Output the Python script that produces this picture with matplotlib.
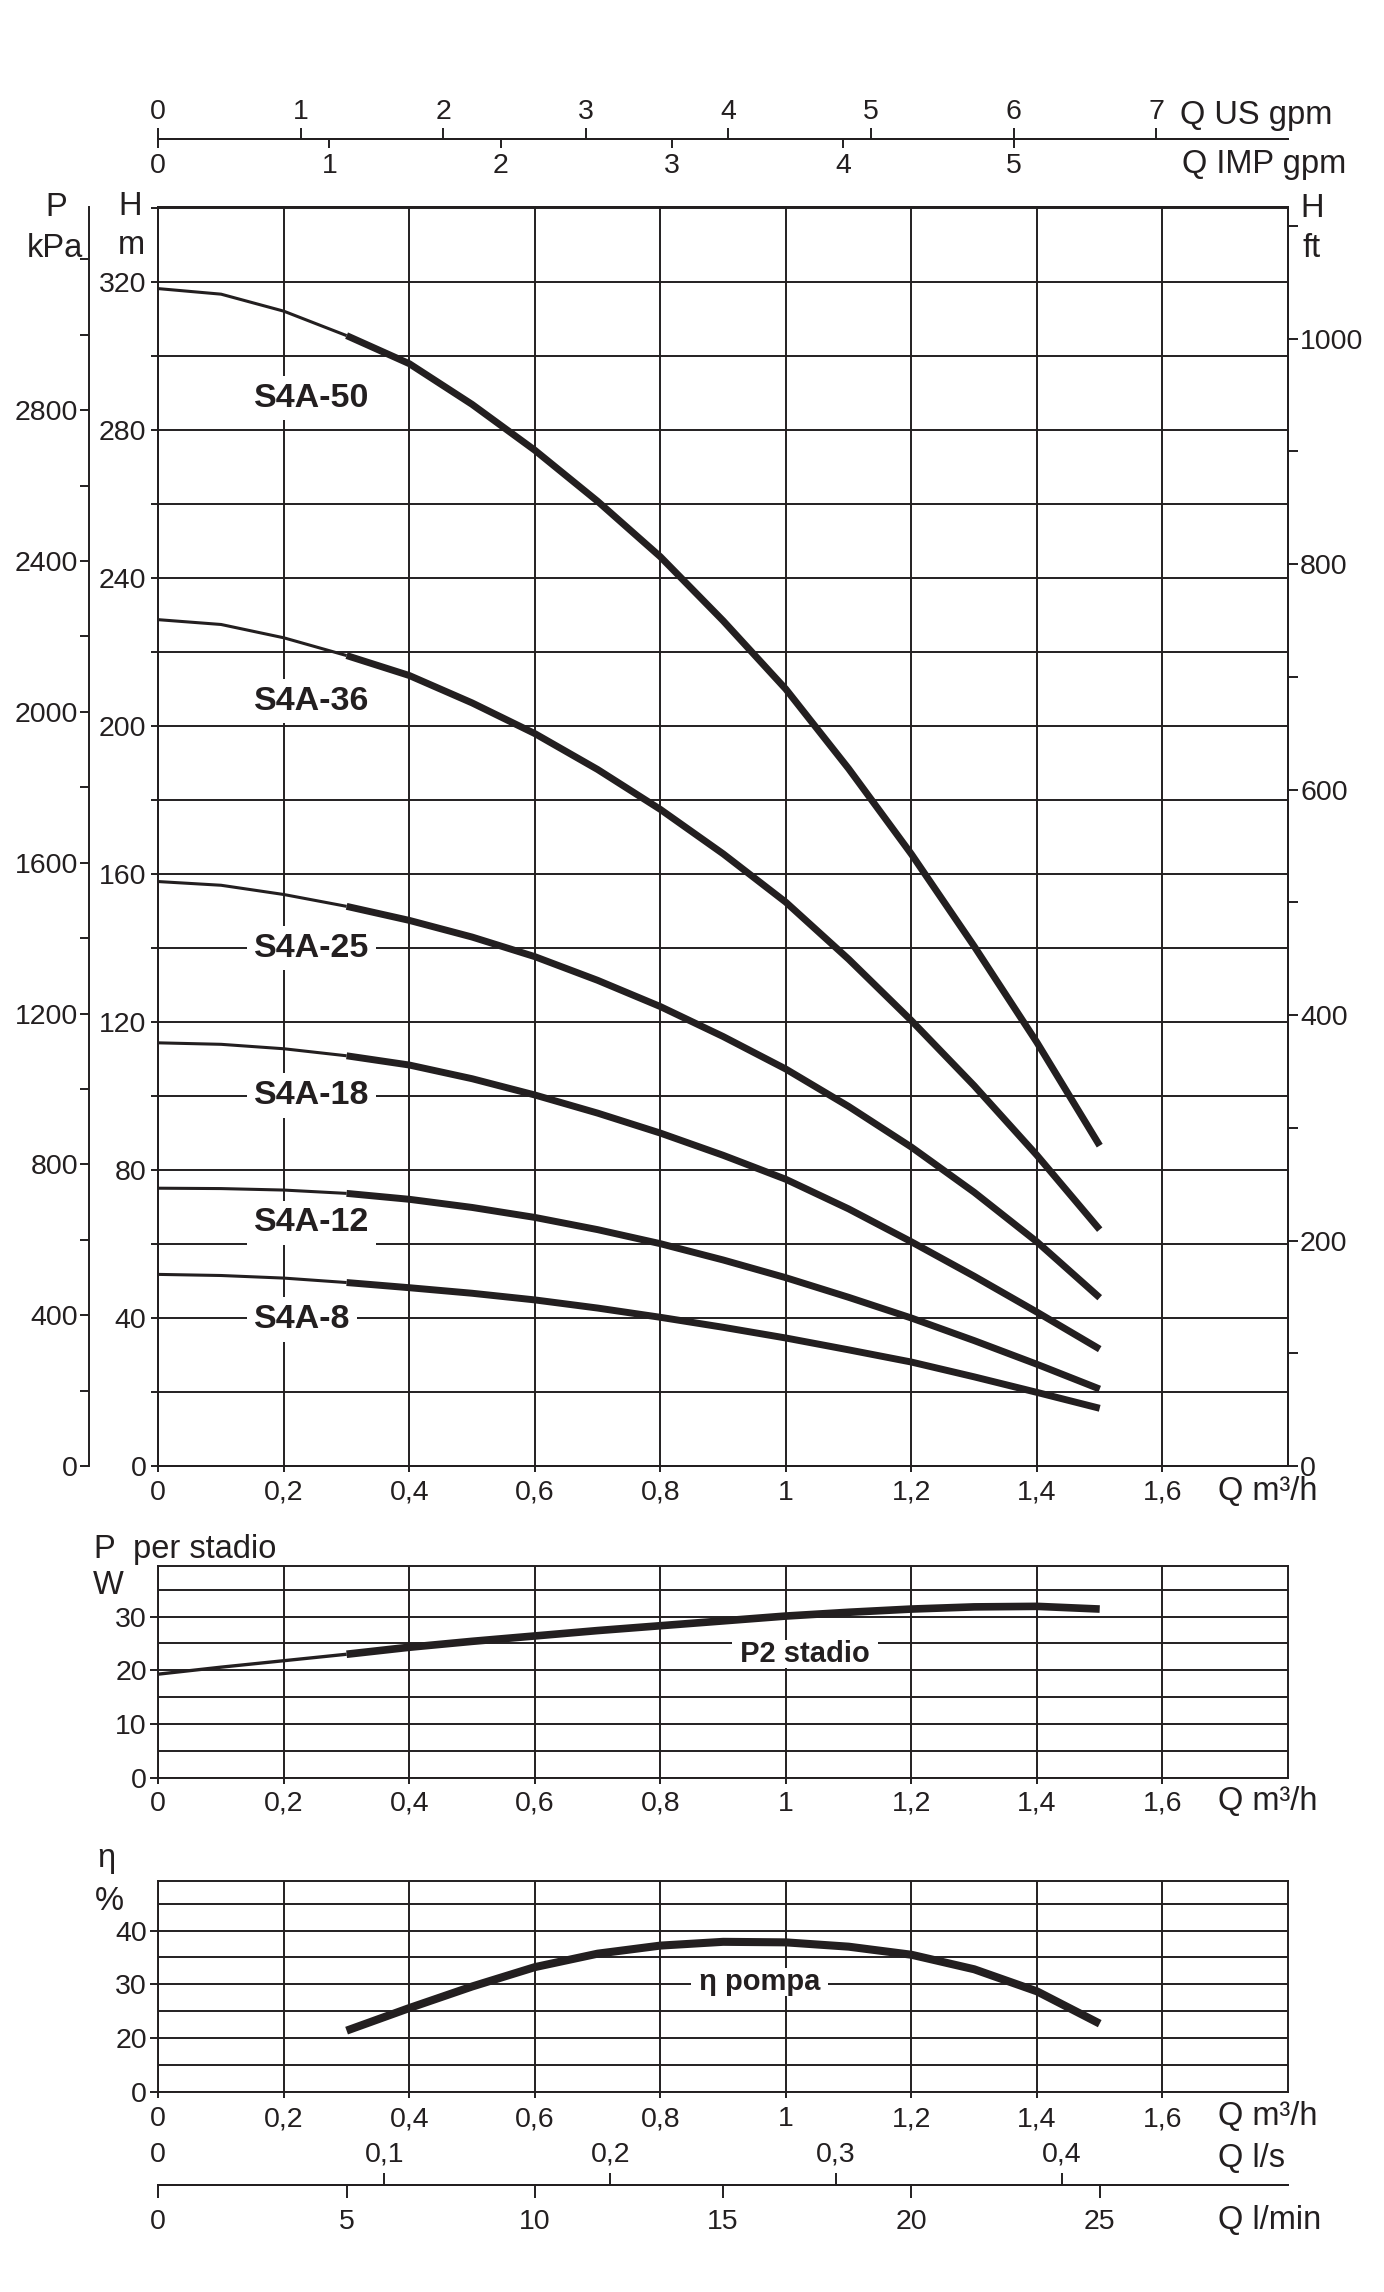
import matplotlib
matplotlib.use('Agg')
import matplotlib.pyplot as plt
from matplotlib.ticker import MultipleLocator, FixedLocator

plt.rcParams['font.family'] = ['Liberation Sans', 'DejaVu Sans']

# ---- data ----
q_h = [0.0, 0.1, 0.2, 0.3, 0.4, 0.5, 0.6, 0.7, 0.8, 0.9, 1.0, 1.1, 1.2, 1.3, 1.4, 1.5]

h_s4a_50 = [318.3, 316.8, 312.2, 305.6, 298.0, 287.0, 274.6, 260.8, 245.8, 228.5, 210.0, 188.5, 165.4, 140.5, 114.5, 86.6]
h_s4a_36 = [228.8, 227.5, 223.9, 219.1, 213.7, 206.3, 198.0, 188.3, 177.5, 165.5, 152.4, 137.0, 120.4, 102.8, 84.0, 63.9]
h_s4a_25 = [158.0, 157.0, 154.5, 151.3, 147.5, 143.0, 137.7, 131.3, 124.2, 116.1, 107.3, 97.2, 86.2, 74.0, 60.6, 45.5]
h_s4a_18 = [114.4, 114.0, 112.8, 110.9, 108.4, 104.7, 100.3, 95.4, 90.0, 84.0, 77.5, 69.5, 60.6, 51.3, 41.6, 31.6]
h_s4a_12 = [75.1, 75.0, 74.6, 73.7, 72.1, 69.9, 67.2, 63.9, 60.1, 55.7, 50.9, 45.6, 40.0, 33.9, 27.5, 20.8]
h_s4a_8 = [51.8, 51.5, 50.8, 49.6, 48.2, 46.7, 44.9, 42.7, 40.2, 37.5, 34.6, 31.4, 28.1, 24.1, 19.9, 15.6]

pump_names = ['S4A-50', 'S4A-36', 'S4A-25', 'S4A-18', 'S4A-12', 'S4A-8']
pump_heads = [h_s4a_50, h_s4a_36, h_s4a_25, h_s4a_18, h_s4a_12, h_s4a_8]

p2_stadio = [19.3, 20.6, 21.8, 23.0, 24.3, 25.4, 26.4, 27.4, 28.3, 29.2, 30.1, 30.8, 31.4, 31.8, 31.9, 31.4]

q_eta = [0.3, 0.4, 0.5, 0.6, 0.7, 0.8, 0.9, 1.0, 1.1, 1.2, 1.3, 1.4, 1.5]
eta_pompa = [21.4, 25.6, 29.6, 33.2, 35.7, 37.2, 37.9, 37.8, 37.0, 35.5, 32.8, 28.7, 22.7]

# ticks
q_ticks = [0, 0.2, 0.4, 0.6, 0.8, 1.0, 1.2, 1.4, 1.6]
q_ticklabels = ['0', '0,2', '0,4', '0,6', '0,8', '1', '1,2', '1,4', '1,6']
h_ticks = [0, 40, 80, 120, 160, 200, 240, 280, 320]
kpa_ticks = [0, 400, 800, 1200, 1600, 2000, 2400, 2800]
ft_ticks = [0, 200, 400, 600, 800, 1000]
us_ticks = [0, 1, 2, 3, 4, 5, 6, 7]
imp_ticks = [0, 1, 2, 3, 4, 5]
ls_ticks = [0, 0.1, 0.2, 0.3, 0.4]
ls_ticklabels = ['0', '0,1', '0,2', '0,3', '0,4']
lmin_ticks = [0, 5, 10, 15, 20, 25]
p_ticks = [0, 10, 20, 30]
eta_ticks = [10, 20, 30, 40]
eta_ticklabels = ['0', '20', '30', '40']

# unit conversions from m3/h and m
M3H_TO_USGPM = 4.40287
M3H_TO_IMPGPM = 3.66614
M3H_TO_LS = 1 / 3.6
M3H_TO_LMIN = 1000 / 60
M_TO_KPA = 9.81
M_TO_FT = 3.2808

QMAX = 1.8
HMAX = 340.5

INK = '#231f20'
TICK_FS = 20.5
LABEL_FS = 23.5
W, H = 1384, 2292

def fx(px):
    return px / W

def fy(py):
    return 1 - py / H

fig = plt.figure(figsize=(W / 100, H / 100), dpi=100)

X0, X1 = 158.3, 1288.0
AW = fx(X1) - fx(X0)

def style_panel(a):
    for s in a.spines.values():
        s.set_color(INK)
        s.set_linewidth(1.4)
    a.set_axisbelow(True)
    a.grid(True, which='both', color=INK, lw=1.4)
    a.tick_params(which='both', direction='out', color=INK, labelcolor=INK,
                  labelsize=TICK_FS, width=1.4)
    a.set_xlim(0, QMAX)
    a.set_xticks(q_ticks, q_ticklabels)

def draw_split(a, q, v, split_idx, thin, thick):
    a.plot(q[:split_idx + 1], v[:split_idx + 1], color=INK, lw=thin,
           solid_capstyle='butt', solid_joinstyle='round', zorder=2)
    a.plot(q[split_idx:], v[split_idx:], color=INK, lw=thick,
           solid_capstyle='butt', solid_joinstyle='round', zorder=2)

# ---- main head chart ----
ax = fig.add_axes([fx(X0), fy(1466), AW, (1466 - 206.5) / H])
style_panel(ax)
ax.set_ylim(0, HMAX)
ax.yaxis.set_major_locator(FixedLocator(h_ticks))
ax.yaxis.set_minor_locator(MultipleLocator(20))
ax.tick_params(axis='y', which='both', length=5, pad=3.5)
ax.tick_params(axis='x', which='major', length=4.3, pad=5.5)

for name, head in zip(pump_names, pump_heads):
    draw_split(ax, q_h, head, 3, 2.2, 5.0)

label_y = {'S4A-50': 288.7, 'S4A-36': 206.8, 'S4A-25': 140, 'S4A-18': 100.2,
           'S4A-12': 65.7, 'S4A-8': 39.6}
for name in pump_names:
    ax.text(0.152, label_y[name], name, ha='left', va='center', fontsize=24.5,
            fontweight='bold', color=INK, zorder=3,
            bbox=dict(boxstyle='square,pad=0.2', fc='white', ec='none'))

# right axis in feet
ax_ft = ax.twinx()
ax_ft.set_ylim(0, HMAX * M_TO_FT)
ax_ft.yaxis.set_major_locator(FixedLocator(ft_ticks))
ax_ft.yaxis.set_minor_locator(MultipleLocator(100))
ax_ft.tick_params(axis='y', which='both', direction='out', length=7.2, width=1.4,
                  pad=1.5, color=INK, labelcolor=INK, labelsize=TICK_FS)
for s in ax_ft.spines.values():
    s.set_color(INK)
    s.set_linewidth(1.4)

# left axis in kPa
ax_kpa = fig.add_axes([fx(89.3), fy(1466), 1e-4, (1466 - 206.5) / H])
ax_kpa.patch.set_visible(False)
for s in ['top', 'right', 'bottom']:
    ax_kpa.spines[s].set_visible(False)
ax_kpa.spines['left'].set_color(INK)
ax_kpa.spines['left'].set_linewidth(1.4)
ax_kpa.set_xticks([])
ax_kpa.set_ylim(0, HMAX * M_TO_KPA)
ax_kpa.yaxis.set_major_locator(FixedLocator(kpa_ticks))
ax_kpa.yaxis.set_minor_locator(MultipleLocator(200))
ax_kpa.tick_params(axis='y', which='both', direction='out', length=6.7, width=1.4,
                   pad=1.5, color=INK, labelcolor=INK, labelsize=TICK_FS)

# top flow scales
ax_us = fig.add_axes([fx(X0), fy(139), AW, 1e-5])
ax_us.patch.set_visible(False)
for s in ['left', 'right', 'bottom']:
    ax_us.spines[s].set_visible(False)
ax_us.spines['top'].set_color(INK)
ax_us.spines['top'].set_linewidth(1.4)
ax_us.set_yticks([])
ax_us.set_xlim(0, QMAX * M3H_TO_USGPM)
ax_us.xaxis.tick_top()
ax_us.set_xticks(us_ticks, [str(t) for t in us_ticks])
ax_us.tick_params(axis='x', direction='out', length=7.7, width=1.4, pad=2.5,
                  color=INK, labelcolor=INK, labelsize=TICK_FS)

ax_imp = fig.add_axes([fx(X0), fy(139), AW, 1e-5])
ax_imp.patch.set_visible(False)
for s in ['left', 'right', 'top']:
    ax_imp.spines[s].set_visible(False)
ax_imp.spines['bottom'].set_color(INK)
ax_imp.spines['bottom'].set_linewidth(1.4)
ax_imp.set_yticks([])
ax_imp.set_xlim(0, QMAX * M3H_TO_IMPGPM)
ax_imp.set_xticks(imp_ticks, [str(t) for t in imp_ticks])
ax_imp.tick_params(axis='x', direction='out', length=6.7, width=1.4, pad=3.5,
                   color=INK, labelcolor=INK, labelsize=TICK_FS)

# ---- power per stage ----
axp = fig.add_axes([fx(X0), fy(1778), AW, (1778 - 1566) / H])
style_panel(axp)
axp.set_ylim(0, 39.4)
axp.yaxis.set_major_locator(FixedLocator(p_ticks))
axp.yaxis.set_minor_locator(MultipleLocator(5))
axp.tick_params(axis='y', which='major', length=5.8, pad=2.5)
axp.tick_params(axis='y', which='minor', length=0)
axp.tick_params(axis='x', which='major', length=4.3, pad=5)
draw_split(axp, q_h, p2_stadio, 3, 2.4, 5.5)
axp.text(1.03, 23.1, ' P2 stadio ', ha='center', va='center', fontsize=21,
         fontweight='bold', color=INK, zorder=3,
         bbox=dict(boxstyle='square,pad=0', fc='white', ec='none'))

# ---- pump efficiency ----
axe = fig.add_axes([fx(X0), fy(2092), AW, (2092 - 1881) / H])
style_panel(axe)
axe.set_ylim(10, 49.2)
axe.set_yticks(eta_ticks, eta_ticklabels)
axe.yaxis.set_minor_locator(MultipleLocator(5))
axe.tick_params(axis='y', which='major', length=5.8, pad=2.5)
axe.tick_params(axis='y', which='minor', length=0)
axe.tick_params(axis='x', which='major', length=4.3, pad=6)
axe.plot(q_eta, eta_pompa, color=INK, lw=5.8, solid_capstyle='butt',
         solid_joinstyle='round', zorder=2)
axe.text(0.958, 30.4, ' η pompa ', ha='center', va='center', fontsize=21,
         fontweight='bold', color=INK, zorder=3,
         bbox=dict(boxstyle='square,pad=0', fc='white', ec='none'))

# bottom flow scales
ax_ls = fig.add_axes([fx(X0), fy(2185), AW, 1e-5])
ax_ls.patch.set_visible(False)
for s in ['left', 'right', 'bottom']:
    ax_ls.spines[s].set_visible(False)
ax_ls.spines['top'].set_color(INK)
ax_ls.spines['top'].set_linewidth(1.4)
ax_ls.set_yticks([])
ax_ls.set_xlim(0, QMAX * M3H_TO_LS)
ax_ls.xaxis.tick_top()
ax_ls.set_xticks(ls_ticks, ls_ticklabels)
ax_ls.tick_params(axis='x', direction='out', length=8.4, width=1.4, pad=4,
                  color=INK, labelcolor=INK, labelsize=TICK_FS)
ax_ls.xaxis.get_major_ticks()[0].tick2line.set_visible(False)

ax_lmin = fig.add_axes([fx(X0), fy(2185), AW, 1e-5])
ax_lmin.patch.set_visible(False)
for s in ['left', 'right', 'top']:
    ax_lmin.spines[s].set_visible(False)
ax_lmin.spines['bottom'].set_color(INK)
ax_lmin.spines['bottom'].set_linewidth(1.4)
ax_lmin.set_yticks([])
ax_lmin.set_xlim(0, QMAX * M3H_TO_LMIN)
ax_lmin.set_xticks(lmin_ticks, [str(t) for t in lmin_ticks])
ax_lmin.tick_params(axis='x', direction='out', length=9.6, width=1.4, pad=8,
                    color=INK, labelcolor=INK, labelsize=TICK_FS)

# ---- axis titles ----
def label(px, py, s, ha='left', size=LABEL_FS):
    fig.text(fx(px), fy(py), s, ha=ha, va='baseline', fontsize=size, color=INK)

label(56, 216, 'P', ha='center')
label(55, 257, 'kPa', ha='center')
label(130, 215, 'H', ha='center')
label(131, 254, 'm', ha='center')
label(1312, 217, 'H', ha='center')
label(1312, 257, 'ft', ha='center')
label(1180, 124, 'Q US gpm')
label(1182, 173, 'Q IMP gpm')
label(1218, 1500, 'Q m³/h')
label(93, 1558, 'P')
label(133, 1558, 'per stadio')
label(93, 1594, 'W')
label(1218, 1810, 'Q m³/h')
label(97, 1867, 'η')
label(95, 1910, '%')
label(1218, 2125, 'Q m³/h')
label(1218, 2167, 'Q l/s')
label(1218, 2229, 'Q l/min')

fig.savefig('out.png', dpi=100, facecolor='white')
